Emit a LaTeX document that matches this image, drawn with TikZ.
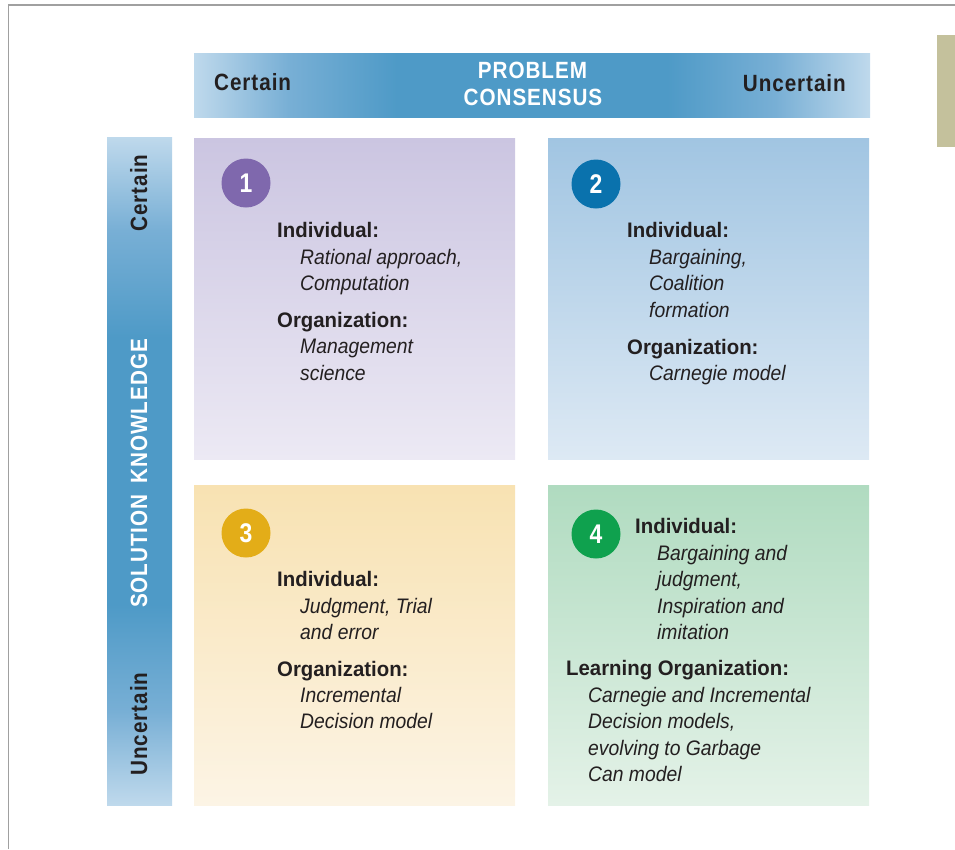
\documentclass[tikz,border=0pt]{standalone}
\usepackage{fontspec}
\newfontfamily\hdf[FakeStretch=0.97]{Liberation Sans}
\newfontfamily\itf[FakeStretch=0.92]{Liberation Sans}
\newfontfamily\lbf[FakeStretch=0.88,LetterSpace=4]{Liberation Sans}
\newfontfamily\nmf[FakeStretch=0.85]{Liberation Sans}
\definecolor{ink}{HTML}{231F20}
\definecolor{barl}{HTML}{BFD9EC}
\definecolor{barm}{HTML}{78AFD5}
\definecolor{bard}{HTML}{4E9AC7}
\definecolor{qat}{HTML}{CBC5E1}
\definecolor{qab}{HTML}{ECE9F4}
\definecolor{qbt}{HTML}{A1C5E2}
\definecolor{qbb}{HTML}{DDE9F4}
\definecolor{qct}{HTML}{F8E2B2}
\definecolor{qcb}{HTML}{FCF4E5}
\definecolor{qdt}{HTML}{B0DBC0}
\definecolor{qdb}{HTML}{E4F2E8}
\definecolor{cpur}{HTML}{7F68AD}
\definecolor{cblu}{HTML}{0A72AD}
\definecolor{cgol}{HTML}{E3AD18}
\definecolor{cgrn}{HTML}{0FA14E}
\definecolor{khaki}{HTML}{C4C19C}
\definecolor{frame}{HTML}{A0A0A0}
\pgfdeclarehorizontalshading{hbar}{100bp}{color(0bp)=(barl); color(25bp)=(barl); color(32bp)=(barm); color(40bp)=(bard); color(60bp)=(bard); color(68bp)=(barm); color(75bp)=(barl); color(100bp)=(barl)}
\pgfdeclareverticalshading{vbar}{100bp}{color(0bp)=(barl); color(25bp)=(barl); color(32bp)=(barm); color(40bp)=(bard); color(60bp)=(bard); color(68bp)=(barm); color(75bp)=(barl); color(100bp)=(barl)}
\tikzset{
  hd/.style={anchor=base west, inner sep=0pt, text=ink, font=\hdf\bfseries\fontsize{21}{25}\selectfont},
  it/.style={anchor=base west, inner sep=0pt, text=ink, font=\itf\itshape\fontsize{21}{25}\selectfont},
  lab/.style={inner sep=0pt, font=\lbf\bfseries\fontsize{23.5}{26}\selectfont},
  num/.style={circle, minimum size=49pt, inner sep=0pt, text=white, font=\nmf\bfseries\fontsize{27}{28}\selectfont}
}
\begin{document}
\begin{tikzpicture}[x=1pt,y=-1pt]
\useasboundingbox (0,0) rectangle (955,849);
% frame
\draw[frame, line width=1.7pt] (8.5,849) -- (8.5,5) -- (955,5);
\fill[khaki] (937,35) rectangle (955,147);
% bars
\shade[shading=hbar] (194,53) rectangle (870,117);
\shade[shading=vbar] (107,137) rectangle (172,805);
% quadrants
\shade[top color=qat, bottom color=qab] (194,138) rectangle (515,459);
\shade[top color=qbt, bottom color=qbb] (548,138) rectangle (869,459);
\shade[top color=qct, bottom color=qcb] (194,485) rectangle (515,805);
\shade[top color=qdt, bottom color=qdb] (548,485) rectangle (869,805);
% bar labels
\node[lab, text=ink, anchor=base west] (tcert) at (214,90) {Certain};
\node[lab, text=white, anchor=base] (tprob) at (532.5,78) {PROBLEM};
\node[lab, text=white, anchor=base] (tcons) at (533,105.5) {CONSENSUS};
\node[lab, text=ink, anchor=base east] (tunc) at (846,91) {Uncertain};
\node[lab, text=ink, anchor=base, rotate=90] (lcert) at (147,193) {Certain};
\node[lab, text=white, anchor=base, rotate=90] (lsol) at (147,473.5) {SOLUTION\hspace{11pt}KNOWLEDGE};
\node[lab, text=ink, anchor=base, rotate=90] (lunc) at (147,724) {Uncertain};
% numbers
\node[num, fill=cpur] (n1) at (246,183) {1};
\node[num, fill=cblu] (n2) at (596,184) {2};
\node[num, fill=cgol] (n3) at (246,533) {3};
\node[num, fill=cgrn] (n4) at (596,534) {4};
% quadrant 1
\node[hd] (a1) at (277,237) {Individual:};
\node[it] (a2) at (300,264) {Rational approach,};
\node[it] (a3) at (300,290) {Computation};
\node[hd] (a4) at (277,327) {Organization:};
\node[it] (a5) at (300,353) {Management};
\node[it] (a6) at (300,380) {science};
% quadrant 2
\node[hd] (b1) at (627,237) {Individual:};
\node[it] (b2) at (649,264) {Bargaining,};
\node[it] (b3) at (649,290) {Coalition};
\node[it] (b4) at (649,317) {formation};
\node[hd] (b5) at (627,354) {Organization:};
\node[it] (b6) at (649,380) {Carnegie model};
% quadrant 3
\node[hd] (c1) at (277,586) {Individual:};
\node[it] (c2) at (300,613) {Judgment, Trial};
\node[it] (c3) at (300,639) {and error};
\node[hd] (c4) at (277,676) {Organization:};
\node[it] (c5) at (300,702) {Incremental};
\node[it] (c6) at (300,728) {Decision model};
% quadrant 4
\node[hd] (d1) at (635,533) {Individual:};
\node[it] (d2) at (657,560) {Bargaining and};
\node[it] (d3) at (657,586) {judgment,};
\node[it] (d4) at (657,613) {Inspiration and};
\node[it] (d5) at (657,639) {imitation};
\node[hd] (d6) at (566,675) {Learning Organization:};
\node[it] (d7) at (588,702) {Carnegie and Incremental};
\node[it] (d8) at (588,728) {Decision models,};
\node[it] (d9) at (588,755) {evolving to Garbage};
\node[it] (d10) at (588,781) {Can model};
\end{tikzpicture}
\end{document}
